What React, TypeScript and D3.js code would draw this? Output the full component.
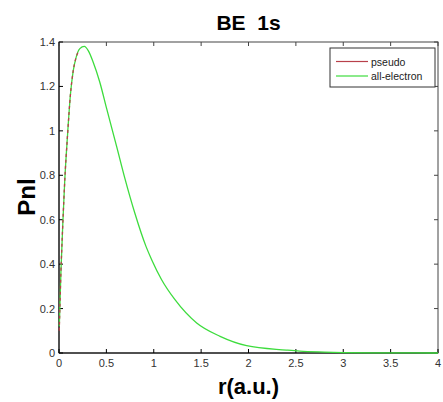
import React from "react";
import * as d3 from "d3";

const pseudoR = [0.003, 0.02, 0.04, 0.06, 0.09, 0.12, 0.15, 0.18, 0.21];
const pseudoV = [0.1, 0.36, 0.58, 0.77, 0.98, 1.16, 1.27, 1.33, 1.36];

const aeR = [0.003, 0.02, 0.04, 0.06, 0.09, 0.12, 0.15, 0.18, 0.22, 0.267, 0.31, 0.36, 0.43, 0.503, 0.608, 0.696, 0.8, 0.918, 0.978, 1.083, 1.224, 1.453, 1.7, 1.98, 2.4, 2.54, 2.8, 3.0, 3.5, 4.0];
const aeV = [0.12, 0.36, 0.58, 0.77, 0.98, 1.16, 1.27, 1.33, 1.37, 1.38, 1.36, 1.31, 1.22, 1.1, 0.93, 0.785, 0.63, 0.48, 0.42, 0.33, 0.24, 0.135, 0.075, 0.033, 0.013, 0.008, 0.004, 0.002, 0.0005, 0];

const xTicks = [0, 0.5, 1, 1.5, 2, 2.5, 3, 3.5, 4];
const yTicks = [0, 0.2, 0.4, 0.6, 0.8, 1, 1.2, 1.4];
const seriesNames = ["pseudo", "all-electron"];

const W = 443, H = 402;
const L = 59, R = 438, T = 42, B = 353;

export default function App() {
  const x = d3.scaleLinear().domain([0, 4]).range([L, R]);
  const y = d3.scaleLinear().domain([0, 1.4]).range([B, T]);
  const line = d3.line<[number, number]>().x(d => x(d[0])).y(d => y(d[1])).curve(d3.curveMonotoneX);
  const ae = aeR.map((r, i) => [r, aeV[i]] as [number, number]);
  const ps = pseudoR.map((r, i) => [r, pseudoV[i]] as [number, number]);
  const green = "#3ddc3d";
  const red = "#b8404a";
  const font = "'Liberation Sans', Arial, sans-serif";
  const tickLen = 4;
  return (
    <div style={{ position: "fixed", left: 0, top: 0 }}>
      <svg width={W} height={H} style={{ display: "block", background: "#fff" }}>
        <text x={(L + R) / 2} y={30} textAnchor="middle" fontFamily={font} fontWeight="bold" fontSize={21} fill="#000" style={{ whiteSpace: "pre" }}>{"BE  1s"}</text>
        <rect x={L} y={T} width={R - L} height={B - T} fill="none" stroke="#444" strokeWidth={1} />
        <line x1={L} x2={R} y1={B} y2={B} stroke="#000" strokeWidth={1.2} />
        <line x1={L} x2={L} y1={T} y2={B} stroke="#000" strokeWidth={1} />
        {xTicks.map(t => (
          <g key={"x" + t}>
            <line x1={x(t)} x2={x(t)} y1={B} y2={B - tickLen} stroke="#000" />
            <line x1={x(t)} x2={x(t)} y1={T} y2={T + tickLen} stroke="#444" />
            <text x={x(t)} y={367} textAnchor="middle" fontFamily={font} fontSize={11} fill="#333">{String(t)}</text>
          </g>
        ))}
        {yTicks.map(t => (
          <g key={"y" + t}>
            <line x1={L} x2={L + tickLen} y1={y(t)} y2={y(t)} stroke="#000" />
            <line x1={R} x2={R - tickLen} y1={y(t)} y2={y(t)} stroke="#444" />
            <text x={55} y={y(t) + 4} textAnchor="end" fontFamily={font} fontSize={11} fill="#333">{String(t)}</text>
          </g>
        ))}
        <path d={line(ae) || ""} fill="none" stroke={green} strokeWidth={1.3} />
        <path d={line(ps) || ""} fill="none" stroke={red} strokeWidth={1.3} strokeDasharray="3,3" />
        <rect x={330} y={48} width={105} height={39} fill="#fff" stroke="#333" strokeWidth={1} />
        <line x1={336} x2={368} y1={61.5} y2={61.5} stroke={red} strokeWidth={1.2} />
        <line x1={336} x2={368} y1={76} y2={76} stroke={green} strokeWidth={1.2} />
        <text x={371} y={65.5} fontFamily={font} fontSize={10.5} fill="#222">{seriesNames[0]}</text>
        <text x={371} y={80} fontFamily={font} fontSize={10.5} fill="#222">{seriesNames[1]}</text>
        <text x={(L + R) / 2} y={394} textAnchor="middle" fontFamily={font} fontWeight="bold" fontSize={22} fill="#000">r(a.u.)</text>
        <text transform={`translate(35,197) rotate(-90)`} textAnchor="middle" fontFamily={font} fontWeight="bold" fontSize={24} fill="#000">Pnl</text>
      </svg>
    </div>
  );
}
